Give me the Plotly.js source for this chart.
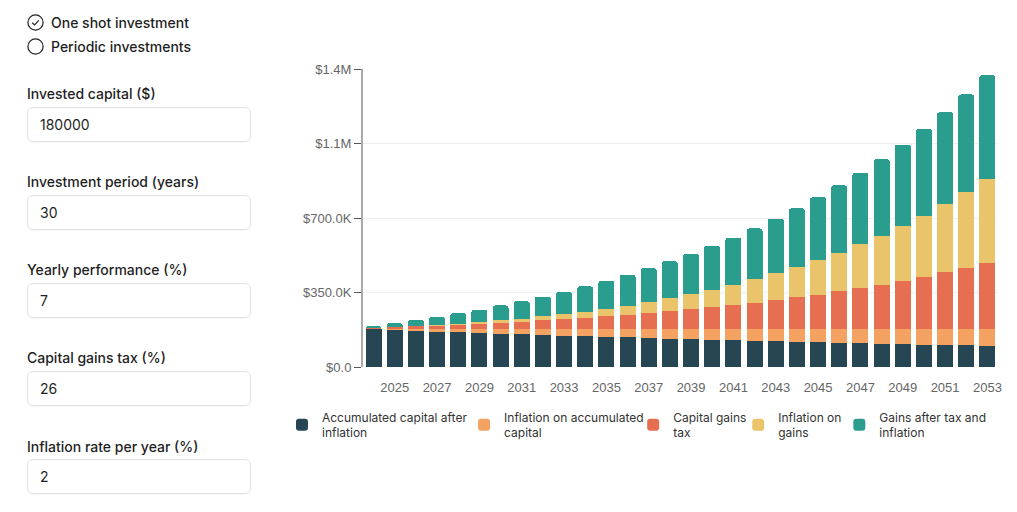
<!DOCTYPE html>
<html>
<head>
<meta charset="utf-8">
<script src="https://cdn.plot.ly/plotly-3.0.1.min.js"></script>
<style>
  html, body { margin:0; padding:0; background:#fff; width:1017px; height:512px; overflow:hidden; }
  body { position:relative; font-family: Inter, "Noto Sans", sans-serif; color:#1f1f1f; }
  #chart { position:absolute; left:0; top:0; width:1017px; height:512px; }
  .radio { position:absolute; left:27px; height:18px; display:flex; align-items:center; font-size:14px; font-weight:500; }
  .radio svg { margin-right:7px; }
  .lbl { position:absolute; left:27px; font-size:14px; font-weight:500; line-height:18px; }
  .box { position:absolute; left:27px; width:224px; height:35px; border:1px solid #e3e3e3; border-radius:6px; box-sizing:border-box;
         font-size:14px; line-height:33px; padding-left:12px; box-shadow:0 1px 1px rgba(0,0,0,0.04); }
</style>
</head>
<body>
<div id="chart"></div>

<div class="radio" style="top:13px;">
  <svg width="17" height="17" viewBox="0 0 17 17"><circle cx="8.5" cy="8.5" r="7.6" fill="none" stroke="#222" stroke-width="1.2"/><path d="M5.2 8.7 L7.6 11 L11.8 6.3" fill="none" stroke="#222" stroke-width="1.2"/></svg>
  <span>One shot investment</span>
</div>
<div class="radio" style="top:37px;">
  <svg width="17" height="17" viewBox="0 0 17 17"><circle cx="8.5" cy="8.5" r="7.6" fill="none" stroke="#222" stroke-width="1.2"/></svg>
  <span>Periodic investments</span>
</div>

<div class="lbl" style="top:85px;">Invested capital ($)</div>
<div class="box" style="top:107px;">180000</div>
<div class="lbl" style="top:173px;">Investment period (years)</div>
<div class="box" style="top:195px;">30</div>
<div class="lbl" style="top:261px;">Yearly performance (%)</div>
<div class="box" style="top:283px;">7</div>
<div class="lbl" style="top:349px;">Capital gains tax (%)</div>
<div class="box" style="top:371px;">26</div>
<div class="lbl" style="top:438px;">Inflation rate per year (%)</div>
<div class="box" style="top:459px;">2</div>

<script>
const years = [2024,2025,2026,2027,2028,2029,2030,2031,2032,2033,2034,2035,2036,2037,2038,2039,2040,2041,2042,2043,2044,2045,2046,2047,2048,2049,2050,2051,2052,2053];

const capitalAfterInflation = [176470,173010,169620,166290,163030,159830,156700,153630,150620,147660,144770,141930,139150,136420,133740,131120,128550,126030,123560,121130,118760,116430,114150,111910,109720,107560,105450,103390,101360,99370];
const inflationOnCapital = [3530,6990,10380,13710,16970,20170,23300,26370,29380,32340,35230,38070,40850,43580,46260,48880,51450,53970,56440,58870,61240,63570,65850,68090,70280,72440,74550,76610,78640,80630];
const capitalGainsTax = [3280,6780,10530,14550,18840,23430,28350,33610,39240,45260,51710,58600,65980,73880,82320,91360,101030,111380,122450,134300,146980,160540,175060,190590,207200,224980,244010,264370,286150,309450];
const inflationOnGains = [180,750,1730,3150,5050,7470,10440,14010,18230,23140,28800,35280,42620,50910,60210,70610,82190,95050,109290,125000,142320,161370,182280,205190,230280,257690,287620,320250,355810,394520];
const gainsAfterTaxInflation = [9140,18550,28250,38250,48570,59230,70250,81650,93450,105690,118360,131510,145170,159350,174100,189420,205370,221960,239240,257240,276000,295560,315960,337250,359460,382650,406870,432170,458610,486240];

const seriesNames = ["Accumulated capital after<br>inflation","Inflation on accumulated<br>capital","Capital gains<br>tax","Inflation on<br>gains","Gains after tax and<br>inflation"];
const seriesColors = ["#264653","#f4a261","#e76f51","#e9c46a","#2a9d8f"];
const seriesValues = [capitalAfterInflation, inflationOnCapital, capitalGainsTax, inflationOnGains, gainsAfterTaxInflation];

const yTickVals = [0,350000,700000,1050000,1400000];
const yTickText = ["$0.0","$350.0K","$700.0K","$1.1M","$1.4M"];

const legendIds = ['legend','legend2','legend3','legend4','legend5'];
const legendX = [-0.1276,0.1592,0.4255,0.5909,0.7501];

const traces = seriesValues.map((vals, i) => ({
  type:'bar', x: years, y: vals, name: seriesNames[i], legend: legendIds[i],
  marker:{color: seriesColors[i], line:{width:0}}
}));

const layout = {
  width:1017, height:512,
  margin:{l:363, r:19, t:69, b:145, pad:0},
  barmode:'stack', bargap:0.24, barcornerradius:3,
  paper_bgcolor:'rgba(0,0,0,0)', plot_bgcolor:'rgba(0,0,0,0)',
  font:{family:'"Liberation Sans", Arial, sans-serif', size:13, color:'#666'},
  xaxis:{type:'linear', range:[2023.5,2053.5], tick0:2025, dtick:2, tickformat:'d',
         showgrid:false, zeroline:false, showline:false,
         ticks:'outside', ticklen:8, tickcolor:'rgba(0,0,0,0)',
         tickfont:{size:13, color:'#666'}},
  yaxis:{range:[0,1400000], tickmode:'array', tickvals:yTickVals, ticktext:yTickText,
         showline:true, linecolor:'#aaa', linewidth:2,
         ticks:'outside', ticklen:7, tickcolor:'#555', tickwidth:1,
         showgrid:true, gridcolor:'#eeeeee', gridwidth:1, zeroline:false,
         tickfont:{size:13, color:'#666'}},
  showlegend:true
};
legendIds.forEach((id, i) => {
  layout[id] = {orientation:'h', x: legendX[i], xanchor:'left', y:-0.12, yanchor:'top',
    font:{family:'Inter, sans-serif', size:12, color:'#333'}, bgcolor:'rgba(0,0,0,0)'};
});

Plotly.newPlot('chart', traces, layout, {displayModeBar:false, staticPlot:true});
</script>
</body>
</html>
